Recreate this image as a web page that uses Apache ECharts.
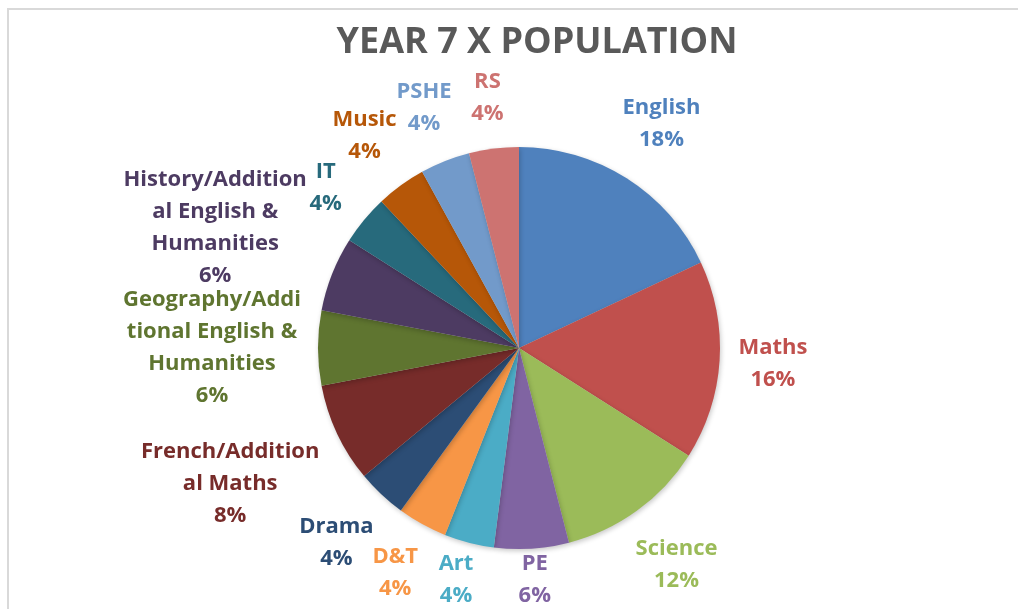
<!DOCTYPE html>
<html>
<head>
<meta charset="utf-8">
<script src="https://cdn.jsdelivr.net/npm/echarts@6/dist/echarts.min.js"></script>
<style>
  html, body { margin: 0; padding: 0; background: #fff; }
  #frame { position: absolute; left: 7px; top: 8px; width: 1100px; height: 700px; border: 2px solid #d9d9d9; box-sizing: border-box; }
  #chart { position: absolute; left: 0; top: 0; width: 1018px; height: 609px; }
</style>
</head>
<body>
<div id="frame"></div>
<div id="chart"></div>
<script>
const titleText = 'YEAR 7 X POPULATION';
const categories = ['English', 'Maths', 'Science', 'PE', 'Art', 'D&T', 'Drama',
  'French/Additional Maths', 'Geography/Additional English & Humanities',
  'History/Additional English & Humanities', 'IT', 'Music', 'PSHE', 'RS'];
const labelLines = ['English', 'Maths', 'Science', 'PE', 'Art', 'D&T', 'Drama',
  'French/Addition\nal Maths', 'Geography/Addi\ntional English &\nHumanities',
  'History/Addition\nal English &\nHumanities', 'IT', 'Music', 'PSHE', 'RS'];
const values = [9, 8, 6, 3, 2, 2, 2, 4, 3, 3, 2, 2, 2, 2];
const colors = ['#4F81BD', '#C0504D', '#9BBB59', '#8064A2', '#4BACC6', '#F79646', '#2C4D75',
  '#772C2A', '#5F7530', '#4D3B62', '#276A7C', '#B65708', '#729ACA', '#CD7371'];

const W = 1018, H = 609;
const CX = 519, CY = 348, R = 201, GAP = 17;
const total = values.reduce((a, b) => a + b, 0);

function midAngle(i) {
  let before = 0;
  for (let k = 0; k < i; k++) before += values[k];
  return (before + values[i] / 2) / total * Math.PI * 2;
}

const chart = echarts.init(document.getElementById('chart'), null, { renderer: 'canvas' });
chart.setOption({
  backgroundColor: 'transparent',
  title: {
    text: titleText,
    left: 532,
    top: 14,
    textAlign: 'center',
    textStyle: { fontFamily: 'Open Sans', fontWeight: 'bold', fontSize: 36, lineHeight: 48, color: '#595959' }
  },
  series: [{
    type: 'pie',
    center: [CX, CY],
    radius: R,
    startAngle: 90,
    clockwise: true,
    avoidLabelOverlap: false,
    data: categories.map((c, i) => ({
      name: c,
      value: values[i],
      itemStyle: { color: colors[i] },
      label: { color: colors[i] }
    })),
    itemStyle: {
      borderWidth: 0,
      shadowBlur: 5,
      shadowColor: 'rgba(0,0,0,0.22)',
      shadowOffsetX: 1,
      shadowOffsetY: 2
    },
    label: {
      show: true,
      position: 'outside',
      fontFamily: 'Open Sans',
      fontWeight: 'bold',
      fontSize: 22,
      lineHeight: 32,
      formatter: p => labelLines[p.dataIndex] + '\n' + Math.round(p.percent) + '%'
    },
    labelLine: { show: false },
    labelLayout: function (params) {
      const i = params.dataIndex;
      const a = midAngle(i);
      const dx = Math.sin(a), dy = -Math.cos(a);
      const w = params.labelRect.width, h = params.labelRect.height;
      const proj = w / 2 * Math.abs(dx) + h / 2 * Math.abs(dy);
      const d = R + GAP + proj;
      let x = CX + dx * d, y = CY + dy * d;
      y = Math.min(y, H - h / 2 + 3);
      return { x: x, y: y, align: 'center', verticalAlign: 'middle' };
    },
    emphasis: { disabled: true }
  }]
});
</script>
</body>
</html>
